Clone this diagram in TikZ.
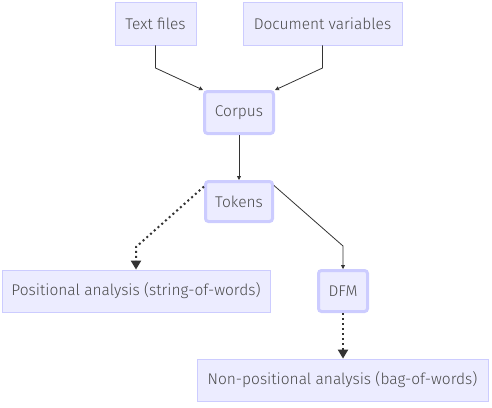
\documentclass[tikz,border=0pt]{standalone}
\usepackage{fontspec}
\setmainfont{Fira Sans Light}[BoldFont=Fira Sans]
\usetikzlibrary{arrows.meta}
\definecolor{boxfill}{HTML}{ECECFF}
\definecolor{boxline}{HTML}{CCCCFF}
\definecolor{linkcol}{HTML}{333333}
\definecolor{txt}{HTML}{4A4A4A}
\begin{document}
\begin{tikzpicture}[x=1pt,y=-1pt,
  base/.style={fill=boxfill, text=txt, font=\fontsize{15.5}{18}\selectfont, inner sep=0pt, anchor=center},
  plainbox/.style={base, draw=boxline, line width=0.8pt},
  roundbox/.style={base, draw=boxline, line width=3pt, rounded corners=3pt},
  link/.style={draw=linkcol, line width=0.8pt, -{Triangle[length=4pt,width=4pt]}},
  dotlink/.style={draw=linkcol, line width=2pt, dash pattern=on 2pt off 3pt, -{Triangle[length=9pt,width=10pt]}}
]
\useasboundingbox (0,0) rectangle (492,407);

\node[plainbox, minimum width=81pt, minimum height=43pt] (files) at (155.5,23.5) {Text files};
\node[plainbox, minimum width=159pt, minimum height=43pt] (docvars) at (322.5,23.5) {Document variables};
\node[roundbox, minimum width=69pt, minimum height=42pt] (corpus) at (239,112.5) {Corpus};
\node[roundbox, minimum width=67pt, minimum height=40pt] (tokens) at (239,201.5) {Tokens};
\node[plainbox, minimum width=268pt, minimum height=42pt] (pos) at (136,291) {Positional analysis (string-of-words)};
\node[roundbox, minimum width=49pt, minimum height=41pt] (dfm) at (343,291) {DFM};
\node[plainbox, minimum width=291pt, minimum height=42pt] (nonpos) at (342.5,380) {Non-positional analysis (bag-of-words)};

\coordinate (fbend) at (155.5,68);
\coordinate (dbend) at (322.5,68);
\coordinate (pbend) at (136,247);
\coordinate (mbend) at (343,246);

\draw[link] (files.south) -- (fbend) -- (corpus.north west);
\draw[link] (docvars.south) -- (dbend) -- (corpus.north east);
\draw[link] (corpus.south) -- (tokens.north);
\draw[dotlink] ([yshift=15pt]tokens.west) -- (pbend) -- (pos.north -| pbend);
\draw[link] ([yshift=16pt]tokens.east) -- (mbend) -- (dfm.north);
\draw[dotlink] (dfm.south) -- (nonpos.north -| dfm.south);
\end{tikzpicture}
\end{document}
